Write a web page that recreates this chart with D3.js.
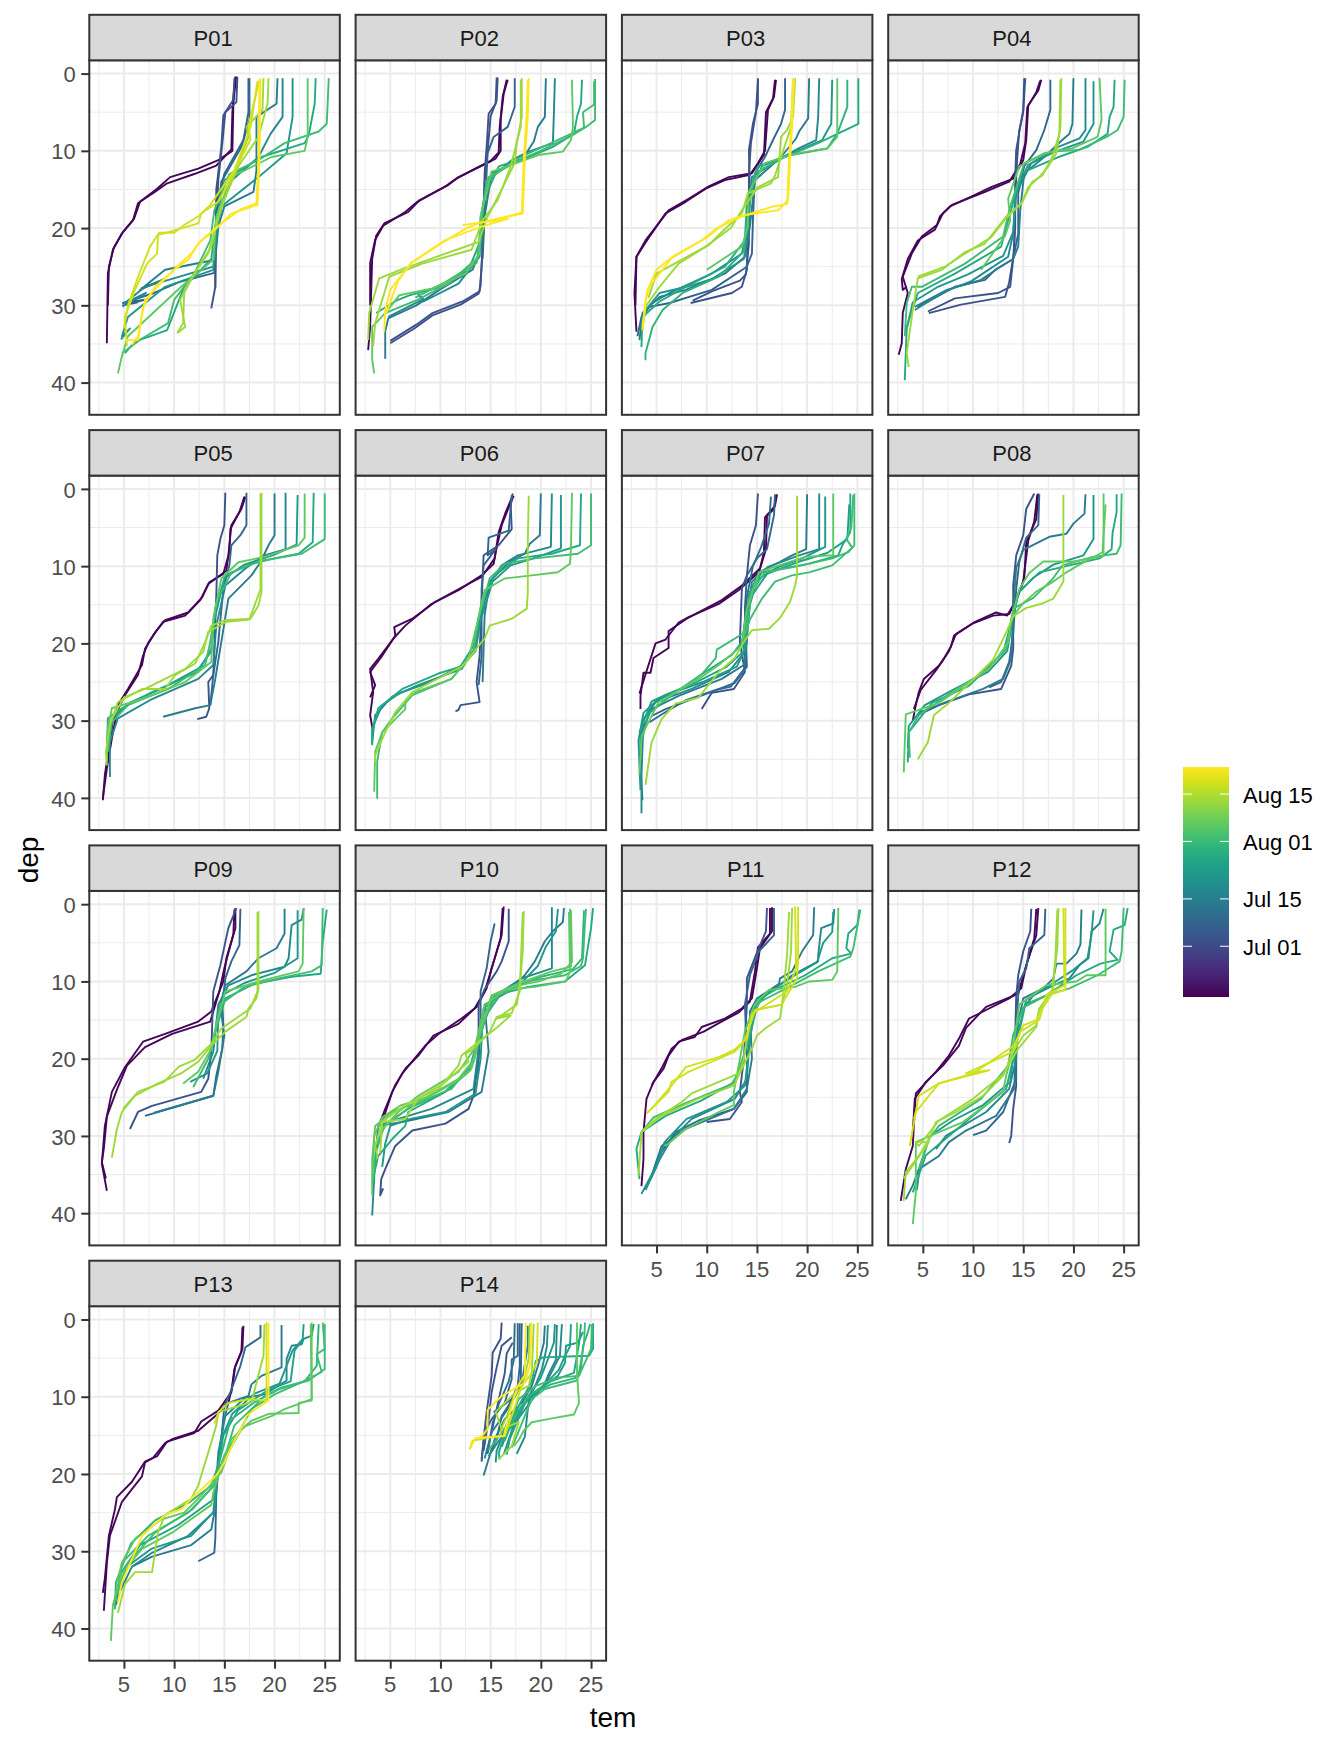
<!DOCTYPE html>
<html>
<head>
<meta charset="utf-8">
<script src="https://cdn.jsdelivr.net/npm/d3@7"></script>
<style>
body { margin: 0; background: #fff; }
text { font-family: "Liberation Sans", Arial, sans-serif; }
</style>
</head>
<body>
<div id="chart"></div>
<script>
// every cast: [date, [tem, dep, tem, dep, ...]]
const p01 = [
  ["06-17", [16.2,.4, 16,2.5, 15.9,3.9, 15.8,10, 14.4,11.2, 12.4,12.3, 9.6,13.4, 8.3,14.9, 6.4,16.8, 5.9,19, 4.8,20.7, 3.9,22.8, 3.4,25.9, 3.3,34.9]],
  ["06-17", [16.1,.4, 15.9,3, 15.8,5, 15.7,9.8, 14.2,11.9, 12,13, 9.3,14.2, 8,15.4, 6.6,16.6, 6,18.8, 4.9,20.5, 4,22.5, 3.5,25, 3.4,30]],
  ["07-03", [16.3,.4, 16.2,3.7, 15.1,5, 14.8,9, 14.4,13.8, 14.2,19.8, 14.1,27.6, 13.7,30.4]],
  ["07-03", [16,.6, 15.9,3.4, 14.9,5.4, 14.7,9.5, 14.2,15, 14.1,24, 14.1,27.8]],
  ["07-08", [17.5,.6, 17.5,6, 16.7,9.5, 14.7,14, 14.2,19.8, 14,25.8, 10.5,27, 8,28.4, 4.9,29.7, 7.4,29.2, 4.9,30, 6.4,29.6]],
  ["07-08", [17.4,.6, 17.4,5, 16.9,8.6, 15,13, 14.3,17, 14.1,23]],
  ["07-14", [20.3,.6, 20.2,3.9, 18.2,5.6, 18.2,12.5, 17.9,15.3, 15,17.2, 14.4,19.8, 14.1,24.1, 9.1,25.4, 6.6,28, 9,26.6, 6.7,27.8]],
  ["07-18", [20.8,.6, 20.8,5.6, 19.6,7.8, 18.4,10.8, 15.4,14.2, 14.2,19.8, 13.9,25, 7.1,27.6, 5.1,29.7, 7.2,28.4, 5,30, 4.9,30.2]],
  ["07-22", [21.8,.6, 21.8,5.6, 21.2,10.3, 18.4,13.4, 14.7,17.2, 14.2,21, 13.9,25.4, 9.1,27.6, 5.4,31.5, 4.8,34, 5.6,33, 4.7,34.4]],
  ["07-27", [24.1,.6, 24,3.9, 23.4,8, 23,9, 18.7,10.8, 15,13.8, 14.1,19.8, 13.7,24, 11,27.6, 9.3,33.2, 6.1,34.7, 5.1,36.2]],
  ["08-02", [25.4,.6, 25.2,6.5, 24.4,7.5, 21,9, 18.4,11.2, 15.5,13, 14,17.7, 13.6,21.6, 12,25.9, 10,29.3, 9.4,32.3, 6.8,34.3, 4.8,36.2]],
  ["08-06", [23.3,.6, 23.3,8.2, 23,10, 19.7,10.8, 15.7,13.4, 14.2,18.5, 13.9,24.1, 10.7,27.6, 5.4,34, 4.8,36.6, 4.4,38.8]],
  ["08-13", [18.9,.6, 18.8,4.7, 17.2,6.9, 17.4,8.2, 16.1,12.5, 14.4,18.5, 13.4,23.3, 12,25.9, 11,28.4, 10.9,32.3, 10.3,33.6]],
  ["08-13", [19.4,.6, 19.3,3.9, 18.4,8.2, 16.4,12, 14.7,17.2, 13.7,22.4, 11.4,27.2, 10.6,29.3, 11.1,32.8, 10.4,33.5]],
  ["08-18", [18.5,.8, 17.4,6.8, 17.6,8.5, 15.5,14, 14.4,16.6, 12.7,18.1, 12.4,19.4, 8.4,20.9, 8.3,23.3, 7.3,24.6, 6.1,28, 5.1,31.5, 5.3,35.3]],
  ["08-18", [18.3,1, 17.6,7, 16,12.5, 13.6,17, 12.5,18.4, 11,19.6, 10,20.6, 8.5,20.6, 7.6,22.4, 6.5,26, 5.4,30, 5,33]],
  ["08-23", [18.6,.6, 18.5,11.2, 18.3,17, 15.7,18.1, 14.4,19.8, 12.4,22, 11.4,24.1, 10.2,25.2, 8.1,27.6, 6.9,30.2, 6.4,34.5, 5.1,34.5]],
  ["08-23", [18.5,.8, 18.4,11.2, 18.2,16.8, 16.7,17.5, 14.7,19.4, 12.7,21.6, 11.7,23.3, 10.4,24.8, 7.1,29.3, 6.4,34, 5.8,35.1]]
];
const p02 = [
  ["06-17", [16.7,.8, 16.3,2.6, 16,6, 16,10, 15.5,11, 14,12, 11.8,13.4, 10.8,14.4, 7.9,16.4, 6.8,17.9, 4.4,19.4, 3.6,21, 3.2,24, 3.1,28.4, 3,32.8, 2.8,35.8]],
  ["06-17", [16.6,.8, 16.2,3, 15.9,7, 15.8,10.2, 15,11.3, 13.6,12.2, 11.6,13.6, 10.5,14.6, 7.7,16.6, 6.4,18, 4.3,19.7, 3.5,21.5, 3,24.5, 3,30]],
  ["07-03", [15.6,.5, 15.5,3.9, 14.8,5.2, 14.6,9.5, 14.4,12.9, 14.3,19.8, 14.1,25, 13.9,28.2, 12.2,29.5, 9.2,31, 7.6,32.5, 5,34.6]],
  ["07-03", [15.7,.5, 15.6,3.5, 15,5.5, 14.7,10, 14.4,14, 14.2,22, 14,27.5, 13.8,28.5, 12,29.9, 9.2,31.3, 7.4,33, 5,34.9]],
  ["07-08", [17.4,.6, 17.4,4.3, 16.7,6.9, 15.3,8.2, 14.7,10.3, 14.5,15.5, 14.2,24]],
  ["07-14", [20.5,.6, 20.4,5.6, 19.7,6.9, 19.3,8.8, 18.1,11.2, 15.1,12.9, 14.5,17.7, 14.1,22.4, 13.2,25.4, 9.9,28, 7.6,30, 4.8,31.7, 4.5,33.4, 4.5,36.9]],
  ["07-18", [21.4,.6, 21.3,5.2, 21.2,9, 18.8,10.1, 17.1,11.2, 14.8,13.8, 14,19.8, 13.9,23.7, 11.8,27.2, 8.3,29.5, 7.8,28.6, 8.3,29.2, 4.8,31.5]],
  ["07-27", [24.1,.8, 24,3.9, 23.6,5.6, 23.3,7.8, 21.2,9.5, 18.8,10.8, 15.8,12, 14.3,16.4, 14,21.6, 12.8,25.4, 9.5,27.8, 6.9,28.7, 5.6,29.4, 3.6,31]],
  ["08-02", [25.4,.7, 25.4,6, 24.5,6.9, 23.1,8, 19.8,10.1, 18.2,11, 14.8,13.4, 14,18.5, 13.8,23.7, 10.8,27.2, 7.7,29.3, 4.5,31]],
  ["08-02", [25.3,1, 25.3,4, 24.2,5, 24.3,7, 23,7.8, 20,9.6, 18,10.8, 14.6,13.8, 14,20, 13.6,24.5, 10.5,27, 7.5,29]],
  ["08-06", [23.1,.8, 23.2,6.9, 23,8.6, 22.2,10.1, 19.9,10.5, 15.1,12.7, 14,18.5, 13.9,23.3, 12.5,25.9, 9.2,27.8, 5.9,28.7, 4.5,31, 3.2,32.8, 3.2,37, 3.4,38.8]],
  ["08-13", [18.1,.6, 18.1,5.6, 17.6,9, 17.4,11.6, 15.9,15.5, 14.7,18.5, 13.8,21.8, 10.5,23.3, 6,25.4, 3.9,26.5, 2.9,31, 2.8,34.5]],
  ["08-13", [18,.8, 18,6.9, 17,12, 15.7,16.4, 14.2,19, 13.1,22.8, 8.2,24.6, 4.9,26.3, 3.5,32.3, 3.3,35.3]],
  ["08-23", [18.8,.6, 18.7,5.6, 18.4,11.2, 18.2,18.1, 14.5,19.2, 12.3,19.6, 16.7,18.8, 14.1,19.8, 10.4,21.6, 7.2,24.4, 6,26.3, 5,28, 4.5,30.6, 4.4,33.4]],
  ["08-23", [18.7,.8, 18.6,5, 18.3,11, 18.1,18, 16,18.7, 14,19.3, 12.6,20, 10.2,21.9, 7,24.6, 5.8,26.8, 4.6,31]]
];
const p03 = [
  ["06-17", [16.9,.8, 16.7,3, 16.1,4.7, 15.8,10, 15.1,11.6, 14.3,13.1, 11.8,13.8, 9.9,14.9, 7.9,16.6, 5.9,18.1, 4.3,21.1, 3,23.7, 2.8,28.4, 3,33.4]],
  ["06-17", [16.8,.8, 16.6,3.2, 15.9,5, 15.7,10.5, 14.5,12.9, 12.2,13.4, 10.2,14.6, 8.2,16.2, 6.2,17.7, 3.9,21.6, 3,23.7, 2.9,30]],
  ["07-03", [15.1,.6, 15.1,3.9, 14.6,6.5, 14.2,9.9, 14.3,15.5, 14.1,19.8, 14,25.4, 13.5,27.6, 12.5,28.4, 8.4,29.7]],
  ["07-03", [15.1,.8, 14.9,5, 14.4,9, 14.2,13, 14.2,22, 13.9,26, 13.3,26.8, 10.5,28.2, 8.6,29.4]],
  ["07-08", [17.8,.6, 17.8,4.7, 17.4,6.5, 16.6,8.6, 15.8,10.8, 14.8,12.9, 14.6,19, 14.5,23.3, 14,25, 10.5,28, 6.3,29.7, 4.3,30.2, 3.5,31.5, 3.1,34]],
  ["07-14", [20.2,.6, 20.1,5.8, 19.2,7.5, 18.9,8.4, 17.4,10.8, 14.8,13.8, 14.3,19.8, 13.8,23.7, 11.8,25.9, 7.9,28, 5.3,28.9, 3.6,31, 3.3,34.5]],
  ["07-18", [21.2,.6, 21.1,5.6, 20.9,8.6, 19.1,9.7, 17.1,11.2, 14.5,13.4, 14.1,19.8, 13.5,23.3, 10.5,25.9, 6.3,28.4, 4.6,29.7]],
  ["07-22", [22.5,.8, 22.4,6.5, 21.5,8.6, 18.5,10.3, 15.5,12, 14.4,15, 14.1,20, 13.7,24, 10.5,26.6, 8,27.6, 5.3,28.4, 4,30.5, 3.5,32.5]],
  ["07-27", [25.1,.6, 25.1,6.5, 23,7.8, 22,9.7, 18.1,10.6, 15.1,12, 14,16.4, 13.8,21.6, 11.8,25, 7.9,27.6, 5.3,29.5, 3.6,31.5, 3.5,35.4]],
  ["07-30", [24,.8, 24,4.3, 23,7.8, 21.1,9, 17.8,10.8, 14.8,12.9, 14,19, 13.7,23, 11.2,26.3, 7.6,28.4, 5.6,30.6, 4.6,32.8, 3.9,36.2, 3.9,37.1]],
  ["08-06", [23,.6, 23,8.2, 22,9.7, 19.1,10.3, 15.8,11.6, 14.1,15.5, 14.1,19.8, 13.5,22.4, 10,25.4]],
  ["08-13", [18.8,.6, 18.6,5.6, 18,7.3, 17.4,8.2, 17.1,13.4, 15.1,14.7, 13.5,17.7, 12.4,20, 9.9,22.4, 7.2,24.6, 5.3,27.6, 3.9,30.2, 3.6,33.2]],
  ["08-13", [18.6,.8, 18.4,6.9, 16.8,13.2, 16.4,14.2, 14.1,15.5, 13.5,18.1, 11.5,20.5, 10.2,22.2, 7.2,24.3, 5,25.9, 4.2,29]],
  ["08-23", [18.7,.6, 18.5,6.9, 18.3,11.2, 18.1,16.4, 17.1,17.7, 13.8,18.3, 12.2,19, 9.9,21.3, 6.6,23.7, 4.3,27.6, 3.9,29.3, 3.6,33.2]],
  ["08-23", [18.6,.6, 18.4,7, 18.2,11, 18,16.9, 16.6,17.2, 13.5,18.5, 11,20, 9.5,21.6, 6.2,24.1, 5,25.4, 4.1,28, 3.6,32.8]]
];
const p04 = [
  ["06-17", [16.8,.8, 16.5,2.2, 15.5,4.1, 15.3,8.6, 15,11.2, 14,13.6, 11.8,14.7, 10.2,15.7, 7.7,17.2, 6.7,18.5, 6.4,19.6, 4.9,21.1, 3.9,23.3, 3,26.3, 3.5,28.4, 3,31, 2.9,34.9, 2.6,36.4]],
  ["06-17", [16.7,.9, 16.3,2.4, 15.4,4.4, 15.2,9, 14.7,11.7, 13.6,14, 11.2,15.3, 7.9,17, 7,18.1, 6.2,20.2, 4.5,21.6, 3.5,24, 2.9,26.6, 3,28, 3.4,27.6]],
  ["07-03", [15.1,.6, 15,4.7, 14.7,6.9, 14.3,9.9, 14.2,13.4, 14.2,19.8, 14,24, 13.7,27.6, 12.5,28.4, 8.2,29.1, 5.5,30.8]],
  ["07-03", [15.2,.6, 15,5, 14.6,7.4, 14.4,11, 14.2,16, 14.1,23, 13.6,27, 13.2,28.9, 8.8,29.9, 5.6,31]],
  ["07-08", [17.7,.8, 17.7,4.7, 17.1,7.3, 16.3,9.9, 15.1,12, 14.5,15.5, 14.5,20.7, 14,24, 12.2,25.4, 11.2,26.7, 8.2,27.6, 4.5,30.2]],
  ["07-14", [20,.6, 19.9,6.5, 19.6,7.8, 18.8,8.7, 17.1,10.8, 15.1,12.9, 14.7,17.7, 14.5,22.4, 14,24, 12.5,25.2, 10.8,26.7, 7.4,28, 4.2,30.2]],
  ["07-18", [21.2,.6, 21.2,7.3, 20.6,8.4, 18.5,9.5, 15.8,11.6, 14.3,15.5, 14,20.7, 13.5,23.7, 9.8,26.9, 7.2,28.2, 4.2,30.6]],
  ["07-22", [22,1, 22,6.5, 21,8.8, 18,10.2, 15.5,11.8, 14.2,15.5, 14,20.5, 13,23.6, 9.5,26, 6.5,27.6, 4,29.6, 3.4,33]],
  ["07-27", [24.1,.8, 24,4.3, 23.6,5.6, 23.4,7.8, 21.4,9.5, 18.5,10.8, 14.8,12.9, 13.5,19, 12.8,22.4, 8.2,25.9, 4.5,28.4, 3.4,32.8, 3.2,39.7]],
  ["08-02", [25.1,.8, 25,5.6, 24.4,7.3, 23.3,8.2, 20.5,9.9, 17.8,10.1, 15.1,11.6, 13.7,17.2, 13,21.1, 9.2,24.6, 4.9,27.6, 3.9,27.6, 3.4,29.7, 3.2,34]],
  ["08-06", [22.6,.6, 22.8,6, 22.4,8.2, 19.8,9.7, 17.1,10.3, 14.6,12, 13.5,16.2, 13.7,19, 13.2,21, 10.8,25.4]],
  ["08-13", [18.8,.6, 18.7,6.9, 18.3,10.3, 17.5,12, 16.6,13.4, 15.5,14.7, 14.8,16.9, 13.3,18.5, 11.2,22, 9.2,23.1, 6.9,25.4, 4.5,26.5, 4,30.6, 3.4,36.2, 3.6,38]],
  ["08-13", [18.7,.8, 18.6,7.8, 17.9,10.8, 16.9,13.2, 15.9,14, 14.9,16.6, 13.1,19, 11.8,21.2, 9.2,23.3, 7.2,25, 4.5,26.3]]
];
const p05 = [
  ["06-17", [17.1,1, 16.7,2.6, 15.7,4.7, 15.4,8.6, 15.2,10.6, 13.4,12.3, 12.6,14.4, 11.1,16.4, 8.9,17.2, 7.9,19, 7.1,20.7, 6.8,22.8, 5.4,25.9, 4.4,28, 3.9,30, 3.6,32.8, 3.1,37, 2.9,40.3]],
  ["06-17", [17,1, 16.5,3, 15.6,5.2, 15.5,8.2, 14.9,11, 13.5,12.1, 12.8,14, 11.4,16, 9.1,17, 8.2,18.4, 7.4,20, 6.9,21.6, 6.4,24.1, 5.1,26.7, 4.3,28.9, 3.8,32.3, 3.3,36.2, 2.9,40]],
  ["07-03", [15.1,.5, 15,4.7, 14.6,6.5, 14.3,8.6, 14.2,13.8, 13.9,24.1, 13.4,25, 13.5,28.4, 13.2,29.5, 12.3,29.8]],
  ["07-08", [17.2,.5, 17.2,4.7, 16.6,6, 15.7,7.3, 15.5,9.9, 14.9,12.9, 14.4,19.8, 13.9,24.1, 13.6,28]],
  ["07-14", [20,.6, 20,6, 19.4,7.3, 18.6,9.5, 17.7,11.2, 15.4,14.2, 14.7,19.8, 14.1,24.6, 13.6,28, 12.1,28.4, 8.9,29.5]],
  ["07-18", [21.1,.5, 21.1,7.8, 19,8.6, 17.1,10.3, 15.1,12.5, 14.2,17.7, 13.9,22.8, 12.4,24.6, 7.8,27.2, 4.4,29.7, 3.6,32.8, 3.6,37.3]],
  ["07-22", [22.3,.8, 22.2,7.2, 20,8.5, 17,9.8, 15,11.6, 14,17, 13.7,21, 12.5,23.2, 9,25.7, 5.7,27.6, 3.9,29.6, 3.4,33]],
  ["07-27", [23.9,.5, 23.8,6.9, 22.4,8.4, 20,9, 17.7,9.7, 15.1,11.2, 14.1,15.5, 13.7,20.7, 12.4,23.7, 7.8,26.3, 4.8,28.4, 3.4,29.7, 3.3,34]],
  ["08-02", [25,.6, 25,6.5, 22.7,8.4, 18.7,9.3, 15.7,10.8, 14.2,14.7, 13.6,19.8, 13.1,22.8, 9.4,25.9, 5.4,28, 3.8,30.2, 3.4,34]],
  ["08-06", [23,.6, 23,6.3, 22.4,7.3, 19,8.8, 16.4,9.5, 14.7,11.6, 13.9,16.8, 13.7,22.4, 11.1,25, 6.8,27.2, 3.8,28.4, 3.4,31, 3.3,35.3]],
  ["08-13", [18.7,.5, 18.7,13.4, 18.4,15.1, 17.6,16.8, 15.1,17, 13.7,17.7, 13.1,19.8, 12.1,22.6, 10.1,24.1, 9.1,25.9, 6.8,25.9, 4.4,27.6, 3.6,30.6, 3.2,34, 3.3,35.8]],
  ["08-13", [18.6,.6, 18.6,13, 17.5,16.9, 15.2,17.2, 13.4,18.5, 12.9,21.1, 11.1,23.3, 9.1,24.6, 7.1,25.9, 5,27, 3.7,30]]
];
const p06 = [
  ["06-17", [17.3,.9, 16.8,2.4, 16.1,4.7, 15.5,8.2, 15.3,9.7, 14.1,11.2, 11.8,13.1, 9.1,14.9, 6.5,17.7, 5.3,19.4, 3.8,22, 3,23.3, 3.3,26.3, 3,29.3, 3.3,31.5]],
  ["06-17", [17.2,.9, 16.5,3, 15.8,5.6, 15.4,9, 14.1,11.4, 12.2,12.7, 9.4,14.7, 7.2,16.8, 5.4,17.9, 5.5,19, 4.1,21.8, 3,23.7, 3.5,25.4, 3,27]],
  ["07-03", [17.2,.6, 17,2.2, 17.1,5.2, 15.8,7.3, 14.3,8.6, 14.1,14.7, 13.9,21.6, 13.6,25, 13.9,27.6, 12,28, 11.8,28.6, 11.5,28.8]],
  ["07-08", [17.1,.8, 16.8,5.4, 14.8,6.3, 14.7,8.6, 15.5,7.8, 14.3,9.9, 14.1,13, 14.1,21.6, 13.8,25.4]],
  ["07-14", [20,.6, 19.9,6, 18.9,7.1, 18.4,8.4, 16.8,9.5, 14.9,12, 14.4,16.4, 14.2,25]],
  ["07-18", [21.1,.6, 21,7.5, 17.7,8.6, 16.1,9.9, 14.8,12.5, 13.8,17.7, 13.4,20.7, 12.1,23.3, 7.8,25.4, 5.2,26.9, 3.5,29.3, 3.2,32.8]],
  ["07-22", [22,.8, 22,7.7, 19.5,8.9, 17,9.9, 15.2,12, 14,17, 13.5,21, 12.2,22.8, 9,25, 6,26.4, 4.2,28, 3.2,31, 3.2,33]],
  ["07-27", [24,.6, 23.9,7.3, 21.1,8.4, 17.7,9, 15.4,11.2, 14.1,14.7, 13.3,20.3, 12,23, 9.8,23.9, 6.2,25.9, 3.8,28.4, 3.2,31.5, 3.2,33.2]],
  ["08-02", [25,.6, 25,7.3, 23.7,8.4, 19.4,9, 16.4,9.7, 14.9,11.6, 13.8,16.8, 13.3,21.1, 11.1,24.6, 7.2,26.7, 5.2,29.7, 4.2,31.5, 3.7,35.3, 3.7,40.1]],
  ["08-06", [23.1,.5, 23,7.8, 22.9,9.7, 21.7,10.8, 19.1,11.2, 16.4,11.6, 14.4,13.1, 13.6,17.7, 12.8,22, 11.1,24.6, 7.5,26.3, 6.5,27.6, 6.5,28.5, 4.2,31.5, 3.5,34, 3.4,39.2]],
  ["08-13", [18.8,.9, 18.7,6.9, 18.7,13.4, 18.6,15.5, 17.1,16.8, 14.9,17.7, 14.4,19.4, 14,20, 12.8,22, 12.1,23, 9.1,25, 7.2,26.3, 5.5,28.9, 4.5,31.5, 3.5,34.5, 3.5,35.4]]
];
const p07 = [
  ["06-17", [17,.7, 16.8,2.2, 15.8,3.7, 15.7,8.2, 15.3,10.3, 13.5,12.5, 11.5,14.4, 8,16.8, 6.2,18.4, 6.2,20.6, 4.7,21.9, 4.4,23.8, 3.7,23.8, 3.4,26.8, 3.4,28.5]],
  ["06-17", [16.9,.8, 16.7,2.6, 16,3.5, 15.9,7.8, 15.2,10.8, 13.2,13.1, 11.2,14.9, 8.2,16.6, 7.2,17.3, 5.9,19.5, 4.9,20, 4.4,22, 4,23.6, 3.3,26.5]],
  ["07-03", [15.1,.6, 14.9,4.7, 14.3,7.3, 14,11.2, 13.5,12.9, 13.3,19.8, 13.8,23.7, 12.7,25.9, 10.5,26.4, 9.5,28.5]],
  ["07-08", [16.8,.7, 16.7,3.4, 16,7.8, 15,9, 14,11.2, 13.8,15.5, 14,23, 12.8,25.1, 10.2,26.4, 5.9,28.5, 4.5,29.4]],
  ["07-10", [16.4,1, 16.2,4.5, 15.4,7.6, 14.6,10, 14,14, 13.6,20, 13.9,23, 12.4,25.6, 11,26, 8,27.3, 5.5,29.2, 4.3,30.2]],
  ["07-14", [20,.7, 19.9,7.8, 18.5,8.6, 17.2,9.5, 15.2,10.8, 14.2,13.8, 14,19.8, 13.7,22.8, 11.5,24.6, 7.2,26.8, 4.5,28.5, 3.4,31.8, 3.4,35.8, 3.6,40.3]],
  ["07-18", [21.2,.6, 21.2,7.8, 19.2,8.6, 16.1,10.1, 14.5,12, 14,16.9, 13.7,21.2, 12.2,23.7, 8.5,25.9, 4.9,27.6, 3.7,29.8, 3.5,37.2, 3.5,42]],
  ["07-22", [21.8,1, 21.8,7.5, 19.5,9, 17,10.2, 15,11.8, 14.3,15, 13.9,20.5, 13,23, 9.6,25, 7,26.2, 5.1,27.3, 3.7,29, 3.2,32.6, 3.4,39]],
  ["07-25", [24.2,2, 24,6.5, 22,8.3, 19,9.5, 16,11, 14.4,14, 13.7,21, 12,23, 9,25, 6,26.6, 4.5,27.5, 3.3,31.5]],
  ["07-27", [24.3,.6, 24.3,5.6, 23.5,7.3, 23.1,8.6, 20.1,9.7, 15.5,10.8, 14.3,13.3, 13.5,19.8, 12.5,21.5, 9.5,24, 6.2,27, 4.2,29.1, 3.5,32.8]],
  ["08-02", [24.7,.6, 24.7,7.3, 24.1,8.2, 22.5,9, 19.5,9.9, 15.8,10.8, 14.5,13.3, 13.9,18.5, 11,20.8, 10.9,21.9, 9.5,24, 5.5,27.6]],
  ["08-02", [24.6,.8, 24.4,5, 23.9,6.5, 24.5,7.6, 22.5,9.9, 20.2,10.8, 18.5,11.2, 16.8,12, 15.5,14.2, 14.3,16.9, 13.7,19.4]],
  ["08-06", [22.6,.6, 22.6,8.6, 19.8,8.8, 17.2,9.9, 15.2,10.8, 14,15.5, 13.5,20.3, 11.2,22.8, 9.2,24.6, 5.2,27.6, 3.5,32, 3.3,37]],
  ["08-13", [19,.9, 19,11.2, 18.8,12.5, 18.3,14.6, 17.3,16.7, 16.2,18.1, 14.5,18.3, 13.7,19.8, 12.8,21.9, 11.2,23.7, 9.2,27, 6.9,27.8, 5.5,29.8, 4.5,32.8, 3.9,38.3]]
];
const p08 = [
  ["06-17", [16.5,.6, 16.3,3.9, 15.3,6.9, 15.1,11.6, 14.5,13.8, 13.6,16.2, 12,16.4, 10,17.4, 8.3,18.8, 7.6,21, 6.6,22.9, 5.1,24.6, 4.6,26.3, 4.3,28, 4,30]],
  ["06-17", [16.4,.7, 16.1,4.2, 15.5,6.7, 15,12, 14.3,14.4, 13.4,16.4, 12.3,16, 10.2,17.2, 8.1,19, 7.8,20.4, 7.1,22, 6.3,23.5, 4.8,26, 4.1,28.5]],
  ["07-03", [16.1,.6, 15.3,2.6, 15,6, 14.3,8.6, 14,12.5, 14,16.7, 14,20.7, 13.8,22.9, 12.8,25.9, 9.6,26.6, 6.6,28, 4.5,29.3]],
  ["07-08", [16.6,.7, 16.5,4.7, 15.3,6.3, 14.6,9.5, 14.3,13, 14,18.6, 13.6,22.4, 12.8,25, 11.6,25.7]],
  ["07-14", [21.2,.7, 21.1,3.2, 20,4.5, 19.3,5.8, 17.6,6.2, 15,7.9, 14.3,10.2, 14,15.5, 13.8,22, 13,24.6, 11,25.9, 7.5,27.5, 4.6,29]],
  ["07-22", [22,.8, 22,6.5, 21,8.6, 18,9.8, 16,11.5, 14.5,13.5, 13.8,18, 13.4,21, 11.5,23.7, 8,26, 5.2,28, 3.6,30.7, 3.5,33.5]],
  ["07-27", [24.3,.7, 24.3,3, 23.9,5.7, 23.8,7.8, 22.6,9, 19.6,9.9, 16.6,10.8, 14.6,13.3, 13.8,17.3, 13,21.2, 9.6,25.5, 5.9,27.7, 3.6,31.5, 3.5,35.4]],
  ["08-02", [24.8,.6, 24.7,7.3, 24.3,8.4, 21.9,8.8, 18.9,9.9, 17.9,11.7, 16,14.1, 14,15.5, 13.3,20.8, 10.6,24.1, 8,26.2, 4.6,29.3, 3.6,31.5, 3.7,34.8]],
  ["08-06", [23,.6, 23,8.7, 20,9.4, 17,9.4, 15.6,10.9, 14.6,13, 13.8,16.9, 13.5,19.9, 11.6,23.3, 9.3,25.3, 6.6,27.7, 3.3,29.2, 3.1,36.7]],
  ["08-06", [23.2,2, 22.9,8.2, 20.6,9.8, 19.3,10.8, 18,12, 16.3,13.3, 15,14.8, 14,16.4]],
  ["08-13", [19,.8, 19,12, 18,14.2, 17,14.8, 15.3,15.4, 14,16.5, 13.3,18.6, 12,22.1, 10,24.7, 7.6,27.7, 6.1,29.3, 5.5,32.8, 4.5,35]]
];
const p09 = [
  ["06-17", [16.1,.5, 16.1,3.1, 15.2,7, 14.9,10, 13.7,13.9, 12.4,15.2, 9.1,16.8, 6.9,17.8, 5.1,21.1, 3.8,24.3, 3.1,28.7, 2.8,33.6, 3.3,37.1]],
  ["06-17", [16,.7, 15.9,3.9, 15,8.3, 14.5,11.3, 13.6,15.2, 9.8,16.8, 7.1,18.5, 5.3,20.9, 4.3,24, 3.3,27.5, 3,31.6, 2.8,33.4, 3.2,35.5]],
  ["07-03", [16.2,.5, 15.4,3.1, 14.6,7.9, 13.9,11.3, 13.7,19.1, 13.4,22.6, 12.7,24.3, 7.8,26.1, 6.4,26.9, 5.6,29.1]],
  ["07-08", [16.6,.6, 16.5,5.3, 15.7,7.4, 15.1,9.6, 14.8,13, 14.9,15.7, 14.8,18.7, 14.2,22.2, 13.9,24.8, 7.1,27.4]],
  ["07-14", [21,.6, 21,3.8, 20.2,5.7, 18.4,7, 17.2,8.7, 15.1,10.5, 14.6,13.1, 15,17, 14.4,21.7, 13.9,24.8, 8,27]],
  ["07-18", [22.9,.5, 22.7,2, 21.7,2.7, 21.4,7, 21,8.1, 17.7,9.2, 15.4,10.5, 14.4,13, 13.9,19.1, 12.9,22.6]],
  ["07-22", [22.3,.8, 22.3,7, 20,8.9, 17,10.2, 15,11.6, 14.4,14, 14.3,19, 13.3,21.9, 11.6,23]],
  ["07-27", [25.2,.7, 24.8,4.8, 24.6,9, 21.7,9.4, 18,10.3, 15.1,12.2, 13.9,17.4, 13.5,20]],
  ["08-02", [24.8,.5, 24.7,7.9, 23.7,8.7, 20.4,9.6, 17,10.7, 14.6,13, 13.9,17.4, 13.4,20, 11.9,23.7]],
  ["08-06", [22.9,.5, 22.8,7.7, 22.4,8.7, 18.4,10, 15.1,11.3, 14.2,15.7, 13.7,18.7, 12.4,21.7, 10.9,23.2]],
  ["08-13", [18.4,.9, 18.4,10.9, 18.2,12.2, 17.4,13.5, 17.2,14.6, 15.1,16.5, 13.7,18.3, 12.4,20.4, 10.7,21.9, 8.4,23.2, 6.1,24.8, 4.8,26.9, 4.3,29.1, 3.8,32.8]],
  ["08-13", [18.3,1, 18.3,11.3, 17.6,13.5, 14.7,16.1, 13.7,18.1, 12,20.2, 10.5,21, 9,23, 6.4,24.3, 4.9,26.5]]
];
const p10 = [
  ["06-17", [16.3,.3, 16.1,4, 15.1,8.3, 14.6,10.9, 13.6,13.3, 12.1,14.8, 9.8,16.8, 8.5,18.3, 6.2,21.9, 5.2,24.3, 4.2,28.2]],
  ["06-17", [16.2,.5, 16,4.4, 14.9,9.2, 14.4,11.3, 13.4,13.5, 11.8,15.5, 9.3,17, 7.8,19.6, 6.5,21.3, 5.5,23.4, 4.5,26.5, 4,28.2]],
  ["07-03", [16.8,.6, 16.8,4.8, 16.1,7.4, 15.6,8.7, 14.4,11, 13.8,13, 13.8,20, 13.3,24.8, 12.8,26.5, 10.5,28.4, 7.2,29.3, 5.5,31.3, 4.5,34.3, 4.1,35.6, 4,37.7, 4.3,36.8]],
  ["07-08", [15.4,2.5, 15,4.8, 14.6,8.3, 14,11.3, 14,15.7, 13.7,22]],
  ["07-14", [22.3,.5, 22.2,2.3, 21.2,3.5, 20.4,4.8, 19.4,7.4, 18.4,9.2, 16.8,11.3, 14.4,13, 14.8,19.1, 14.1,24.3, 10.8,26.9, 6.2,28.2, 3.9,28.7]],
  ["07-18", [21.1,.4, 21.1,8.3, 18.1,9.6, 16.1,11.3, 14.3,13.5, 13.8,18.7, 13.3,23.9, 9.1,26.5, 5.8,27.8, 3.8,28.7, 3.5,33, 3.2,40.3]],
  ["07-22", [21.7,.6, 21.5,3.5, 20.5,5.5, 19.7,8, 18.2,10, 15.8,12, 14.2,15, 14,20, 13.5,24.5, 10.5,26.9, 7,27.8, 5,28.7, 4.5,31, 4.2,34]],
  ["07-27", [25.2,.5, 25,3.1, 24.4,7.9, 22.4,10, 18.7,10.7, 15.4,11.8, 13.8,17.2, 12.8,21.7, 10.5,24.3, 6.8,26.9, 6.5,28.7, 5.2,30.4, 3.8,32.6, 3.2,36]],
  ["07-30", [24.3,.8, 24.1,7, 23.2,8.4, 20,9.4, 16.8,11.1, 15,12.4, 14,17, 13.1,21.2, 10.4,24.3, 6.9,26.4, 4.4,28.6, 3.6,32, 3.3,36]],
  ["08-02", [24.5,.6, 24.4,2.4, 24.2,7, 24,8, 22.4,9.2, 18.7,10, 15.8,11.8, 14.2,15, 13.3,20.4, 11.1,23.9, 7.2,26, 4.5,28.7, 3.5,31.3]],
  ["08-06", [22.9,.6, 23,8.1, 21.1,8.7, 17.7,10.3, 15.1,11.8, 14.1,15.7, 13.4,20, 11.8,22.6, 7.8,25.6, 5.2,26.9, 3.5,28.7, 3.2,33, 3.2,37.7]],
  ["08-06", [22.8,1, 22.9,8.7, 22.5,10, 19.4,10.7, 16.4,11.1, 14.4,13.1, 13.4,18.7, 11.8,21.7, 7.8,24.8, 5.8,26.9, 3.8,29.7]],
  ["08-06", [23,.8, 23.1,7.5, 22,9, 19.8,10, 17.4,10.6, 15.2,11.8, 14,16.4, 13,21.5, 11.5,23, 8.7,25, 6.1,26, 4.2,27.6, 3.4,30, 3.3,35]],
  ["08-13", [18.3,.9, 18.2,6.1, 17.9,10.5, 17.6,13, 15.6,14.8, 17,14.4, 15.6,16, 13.8,17.8, 12.1,19.6, 11.8,20.9, 9.8,23.9, 6.5,26, 4.2,28.2, 3.5,31.3, 3.8,33]],
  ["08-13", [18.2,1, 17.9,11.3, 17.1,14.1, 15.6,14.6, 14.9,16.6, 13.3,18.7, 12.5,19.4, 12.8,20.4, 10.3,23.2, 7.8,25.1, 6.5,27.8, 4.2,28.2, 4,32.2]]
];
const p11 = [
  ["06-17", [16.5,.4, 16.5,3.5, 15.3,5.7, 15,8.3, 14.5,12.2, 13.5,13.5, 11.8,14.8, 9.5,15.9, 8.8,17.2, 7.2,17.8, 6.2,19.6, 5.7,21.3, 4.7,23, 4,25.2, 3.7,29.5, 3.7,33, 3.5,36.5]],
  ["06-17", [16.3,.5, 16.3,3.8, 15.1,5.6, 14.8,8.7, 14.3,12.6, 13.2,14, 11.2,15.4, 9.7,16.5, 7.5,17.6, 6.5,18.7, 5.6,21, 4.5,23.5]],
  ["07-03", [16,.5, 15.9,3.5, 14.9,6.6, 14,9.6, 14,13, 13.7,20, 13.3,24.3, 13.5,25.6, 12.3,27.8, 10,28.2]],
  ["07-08", [16.7,.5, 16.7,4, 15.2,6.1, 14.3,9.2, 13.8,13, 14,19.1, 14,24.3, 12.7,26.5, 9.2,28, 6.9,29.5, 5.2,32.6, 4.4,35.6]],
  ["07-14", [20.7,.4, 20.6,4, 19.5,6.1, 18.5,8.7, 17.3,9.6, 17.2,10.3, 15,12.2, 14.3,13.9, 14.5,20, 14,23.9, 12.7,26.5, 7.9,29.1, 5.5,31.3, 4.5,35.2]],
  ["07-18", [22.7,.6, 22.6,2.5, 21.4,3.1, 21.1,6.6, 21.1,7.4, 18.5,9.2, 16.8,10.9, 14.8,12.9, 14.2,18.7, 14,22.6, 12.8,25.2, 8.5,27.8, 6.5,30.4, 5.5,32.6, 3.5,37.5]],
  ["07-22", [22.6,1, 22.5,3.6, 21.6,5, 21,7.5, 18.8,9.2, 16,11.5, 14.5,14, 14.1,20, 13.8,23.5, 12,25.6, 8,27.8, 5.8,30.8, 5,34, 3.9,37]],
  ["07-27", [25.2,.7, 25,2.7, 24.1,3.8, 23.9,5.7, 24.4,6.4, 22.5,7, 19.8,9.2, 17.1,10.9, 15.2,12.2, 14.2,17.6, 12.8,23, 9.5,25.4, 5.9,27.4, 3.5,29.5, 3,31.7, 3.3,35.6]],
  ["08-02", [25.3,.7, 24.6,5.7, 24.3,6.8, 21.1,8.7, 18.5,10.5, 15.2,12.7, 14.3,15.7, 13.5,20.9, 12.5,23.3, 8,25.7, 4.7,27.6, 3.5,29.5]],
  ["08-06", [23.1,.5, 23,8.7, 22.5,9.8, 20.2,10, 18.8,10.7, 16.2,11.1, 14.8,12.9, 13.8,16.5, 12.7,24.3, 12.7,26, 11.2,26.9, 7.9,29.1, 5.9,31.3]],
  ["08-13", [18.5,.5, 18.4,6.1, 18,10.5, 17.5,13, 14.8,13.7, 14.3,15.7, 14,17.4, 13.7,20, 13.2,21.9, 8.5,24.5, 7.5,25.6, 4.9,27.8, 3.5,29.5, 3.2,35.2]],
  ["08-13", [18.2,1, 18,6.5, 17.6,12, 17.3,14.8, 15.8,16.1, 15,17, 14.5,18.7, 13.5,21.3, 12.7,23.5, 9.1,25.2, 5.5,27.4, 3.5,29.5]],
  ["08-18", [19.1,.3, 19.1,7, 19,9.6, 17.8,12.2, 17.5,13, 14.8,13.7, 14.3,15.7, 13.7,17.8, 12.8,19.1, 11.2,20, 8.2,21.7, 6.5,23, 6.2,24.3, 4,27.1]],
  ["08-18", [18.8,.3, 18.9,8.3, 18,11.3, 14.5,14.2, 14,17.4, 12.7,18.9, 11.2,19.8, 7.9,21.1, 6.5,23.5, 4.5,26.5]]
];
const p12 = [
  ["06-17", [16.5,.5, 16.3,4, 15.3,7.9, 14.8,10.9, 13.6,12.2, 11.3,13.7, 9.6,14.8, 8.6,17.4, 7.6,19.6, 6.3,21.7, 4.3,24.5, 4.1,28.7, 4,31.3, 3.3,34.3, 2.8,38.4]],
  ["06-17", [16.3,.6, 16.1,4.4, 15.1,8.8, 14.5,11.6, 11.3,13.3, 9.3,16, 8.6,18.3, 7,20.9, 5.3,23, 4.2,25.2, 4,29.5]],
  ["07-03", [15.8,.6, 15.7,3.5, 15,6.1, 14.5,9.2, 14.3,12, 14.2,17, 14.3,23.5, 14,26.5, 13.8,30, 13.6,30.9]],
  ["07-08", [17.2,.6, 17.1,4, 15.6,5.7, 15.3,8.3, 14.6,10, 14.3,15.7, 14.3,22.6, 13,26.9, 11.3,29.3, 10,29.9]],
  ["07-14", [20.8,.7, 20.7,5.2, 20.3,6.4, 19.3,7.7, 18.3,7.7, 18,9.6, 17,10.9, 15,12.2, 14.3,16.5, 14.1,23.9, 12.3,27.4, 9.3,29.3, 7.6,30.8, 6.6,32.6, 4.6,34.3, 4,36.4, 3.3,38.2]],
  ["07-18", [23,.6, 22.6,2.5, 21.8,3.5, 21.5,7, 20.6,7.9, 19.6,9.6, 18,10.5, 16,11.8, 14.5,14.4, 14.3,20, 13.6,23.9, 11.3,26.9, 7.3,30, 6.3,31.7]],
  ["07-22", [22,.8, 21.8,4, 21.4,7, 20,8.5, 18,10.2, 15.3,12.4, 14.2,18, 13.7,23, 11,26, 8,28, 5.7,30, 4.7,34, 4.4,37]],
  ["07-27", [25.4,.5, 25.1,2.7, 24,3.3, 23.6,6.1, 24.4,7.2, 22.7,7.7, 20.3,9.2, 17.3,11.8, 15.2,13, 14,20, 13.3,23.9, 9.6,27.8, 7.6,30, 5.3,32.5, 4,37.3]],
  ["08-02", [25,.5, 24.8,6.1, 24.6,7.4, 22.4,9.2, 19.6,10.9, 17.3,11.8, 15,13.4, 14,16.9, 13.5,20.9, 10.8,25.2, 6.6,28.7, 5.6,30.4, 4.6,34.3]],
  ["08-06", [23.2,.6, 23.2,9.2, 21.3,9.2, 20.3,10, 17.3,10.5, 14.6,13, 14,18.7, 13.3,22.2, 13,24.3, 9,28.2, 6.6,29.5, 4.3,30.8, 4.3,37.3, 4,41.4]],
  ["08-13", [18.5,.5, 18.4,5.7, 18.1,8.7, 18,10.9, 16.6,13.5, 16.3,15.7, 15,17, 14,19.1, 13,22.2, 11,24.8, 8.3,26.9, 6.3,28.2, 5.6,30.4, 4.6,32.6, 3.3,34.7, 3.1,38.4]],
  ["08-13", [18.4,.7, 18.2,7, 17.9,11, 16.5,14.1, 16.3,15.9, 14.5,18.7, 13,22, 10,25.2, 6.6,28, 4.6,31.3, 4.3,30.8, 5.6,30.8, 3.1,35.5]],
  ["08-18", [19.2,.5, 19.2,11.1, 17.9,11.6, 16.9,13.5, 16.3,15, 15,15.7, 14.1,18.3, 10,21.9, 6.6,23.2, 4.3,26.9, 3.7,31.3]],
  ["08-18", [19,.5, 19.1,10.5, 17.3,11.8, 16.6,15, 14.7,16.5, 14,19.1, 9.3,21.9, 11.6,21.5, 6.6,23.2, 4.6,24.8, 4.3,26.9, 4.1,27.8]]
];
const p13 = [
  ["06-17", [16.9,.8, 16.8,3.8, 16.1,6, 15.8,8.6, 15.4,10.8, 14.1,12.5, 12.4,14.4, 9.8,15.5, 9.1,16, 7.9,17.9, 7.1,18.5, 6.8,20.3, 4.8,23.6, 3.6,28, 3.3,31.5, 3,37.7]],
  ["06-17", [16.8,1, 16.7,4.2, 16,6.4, 15.7,9.4, 14.4,11.8, 12.7,13.2, 12,14.7, 9.3,15.8, 8.3,17.7, 7.1,18.4, 5.8,21, 4.3,23, 4.1,24.6, 3.5,28, 3.1,33.5, 2.9,35.4]],
  ["07-08", [18.6,.7, 18.6,2.3, 17.1,3.6, 16.6,6, 15.6,9.4, 15,11.2, 14.7,15.5, 14.2,22.4, 14.1,28.4, 14,30.2, 12.4,31.3]],
  ["07-14", [20.7,.7, 20.7,6.2, 18.7,7.3, 17.7,8.4, 17.4,9.9, 15.4,10.8, 14.9,13.4, 14.4,18.6, 14.1,24.3, 13.7,27.2, 11.7,29.2, 7.8,30.7, 5.8,32]],
  ["07-18", [23.9,.6, 23.7,2.1, 22.9,2.5, 22.7,3.2, 21.7,3.4, 21.2,5.1, 21.2,7.9, 19,9.7, 17.1,10.1, 15.1,12.5, 14.4,17.2, 14.2,21, 13.9,25, 11.4,28, 7.8,30.2, 5.8,32, 4.5,35.5, 4.2,37]],
  ["07-22", [22.9,2.4, 21.8,4, 20.5,8.3, 18,9.6, 15.8,12.2, 14.7,15.5, 14.3,19.5, 14,24.8, 11.7,28, 7.7,29.7, 5.3,32, 4.3,36]],
  ["07-25", [22.9,.6, 22.8,2.6, 22,4, 21.6,8, 19.4,9.1, 16.4,11.7, 14.9,15, 14.3,20, 13.9,23.3, 10.4,26.6, 6.6,29.2, 4.6,33, 4.1,36.7]],
  ["07-30", [24.4,.6, 24.2,6, 23,8, 20.5,9, 18,10.7, 15.6,13, 14.6,18, 13.7,21.5, 11.6,23.6, 8.1,26, 5.7,29, 4.2,34, 4.1,37.5]],
  ["08-02", [24.8,.4, 25,3.8, 24.2,4.5, 24.7,6.8, 22.4,8.3, 20,9.7, 17.7,11.6, 16.7,14, 15,17.6, 13.9,21.5, 11.8,24.6, 8.1,27.6, 5.4,31.5, 4.4,35]],
  ["08-02", [25,.6, 25,6.4, 23.4,7.9, 20.7,8.8, 19,9.9, 17.7,11.6, 16,13.7, 15,18, 14,21.5, 11.4,25, 7.4,28, 4.8,31.5, 4.4,35.4]],
  ["08-06", [23.7,.4, 23.7,10.3, 22.7,10.8, 21,11.6, 19.7,12.5, 17.1,13.8, 15.7,15.5, 14.7,19, 13.9,22.4, 13.7,24, 9.8,27.6, 6.8,29.7, 4.8,32.8, 3.9,37, 3.7,41.6]],
  ["08-06", [23.6,.6, 23.7,10.5, 22.4,10.8, 22.4,12.1, 19.5,12.2, 17.7,13.1, 16.7,14.2, 15.4,17.2, 14.7,19.8, 12.7,22.8, 11,25, 8.7,25.9, 6.1,28.4, 4.8,31.5, 4.3,34]],
  ["08-13", [19,.6, 18.9,4.7, 18.4,7.2, 17.7,10.7, 14.4,12, 14.2,13.7, 13.4,17.2, 12.4,21.5, 11.7,23.2, 9.1,25.3, 8.4,27.5, 7.8,32.7, 6.1,32.7, 5.1,34.3, 4.4,38]],
  ["08-18", [19.2,.4, 19.2,10.5, 17.6,10.3, 15.4,10.8, 14.4,12, 14,13.5]],
  ["08-23", [19.4,.4, 19.4,10.5, 17.7,12, 17.2,12.5, 17,13.4, 16.1,15.4, 15,18.5, 14.2,20.2, 11.7,23.2, 10.8,24.5, 9.1,25.3, 6.8,28, 6.1,30.1, 4.8,34, 4.4,36.6]]
];
const p14 = [
  ["07-03", [16.1,.4, 16,2.5, 15.2,4.3, 15.1,7.3, 14.6,12, 14.3,15.5, 14.1,18.4]],
  ["07-03", [17.1,2.3, 16.1,3.4, 15.6,6.2, 15.1,9.4, 14.8,12.9, 14.3,17]],
  ["07-05", [17.2,3, 16.6,4.4, 16.4,7, 15.8,10.4, 15.2,14, 14.6,17.4]],
  ["07-08", [17.7,.5, 17.7,4.7, 17.1,5.2, 17.1,7.7, 16.4,10.8, 15.1,12.9, 14.4,14.6, 14.1,18.1]],
  ["07-08", [18.1,.5, 18,7.8, 17.6,9.5, 16.1,12.5, 15.6,15.5, 15.1,16.8]],
  ["07-08", [17.9,.5, 17.9,6, 17.7,8.6, 17.1,10.3, 15.3,12]],
  ["07-11", [17.4,.5, 17.3,5.3, 16.8,8, 15.8,11, 15.2,13.4, 14.7,17.4]],
  ["07-14", [20.4,.8, 20.3,3, 19.8,5.6, 19.1,8.6, 18.1,10.8, 16.4,12.9, 15.4,15.5, 14.3,20.2]],
  ["07-14", [18.7,.8, 18.7,3.4, 18.1,8.2, 17.1,10.8, 15.8,13.3, 15.1,14.6, 14.4,18]],
  ["07-18", [21.6,.7, 21.5,5.2, 20.8,7, 20.3,8.6, 18.8,10.5, 18.4,15.2, 17.6,17.4]],
  ["07-18", [22.1,.6, 21.9,4.7, 20.6,8, 19.3,10.1, 17.5,13.3, 15.8,15.7, 14.8,17.7]],
  ["07-20", [20.7,.7, 20.6,3.5, 20.1,6.5, 19.3,9, 18,11.5, 16.6,13.5, 15.6,17, 15.5,18.5]],
  ["07-22", [24.2,1.6, 23.7,3, 22.5,3.4, 22.4,5.6, 21.7,7.3, 19.8,9, 18.1,11.2, 17.1,13, 16.1,16.5]],
  ["07-22", [21.4,.6, 21.3,3, 20.6,5.5, 20,7.5, 19,9.5, 18,11.5, 17.2,14, 16.3,17.5]],
  ["07-25", [23,.6, 22.9,3.5, 22.3,5, 21.8,6.5, 20.3,8.6, 18.5,10.6, 17.7,13, 16.9,15.5, 16.6,17.5]],
  ["07-27", [25.2,.5, 25.2,3.8, 24.8,4.7, 20.2,4.9, 19.5,5.4, 19.1,8, 17.8,11.2, 16.5,14.2, 15.8,17.3, 15.9,18.1]],
  ["07-27", [24,.6, 23.8,3.2, 23.3,6.9, 21,8, 19,9.7, 18,11.8, 17,13.7, 16.2,15.6]],
  ["07-30", [24.9,.6, 24.6,2, 24.2,3.4, 24,6.4, 23.4,7.6, 21,8.4, 19,9.7, 17.4,12.4, 16.4,15.7]],
  ["08-02", [25.1,.6, 25,3.8, 23.8,7.3, 21.8,7.5, 19.5,8.6, 17.8,10.3, 16.8,13.4, 16.1,14.7, 14.8,16.9]],
  ["08-02", [24.4,.4, 24.3,3.1, 23.8,6.9, 23.6,7.9, 20.4,9, 19.1,10.3, 18.4,12.5, 17.4,15.7, 17.1,16.6]],
  ["08-06", [23.6,.4, 23.6,6.9, 23.8,10.8, 23.3,12.3, 21.1,12.8, 19.1,13.3, 18.3,14.4, 17.8,15.6, 17.3,16.4]],
  ["08-13", [19.3,.6, 19.1,6.8, 18.8,8.6, 17.5,9.4, 15.5,12, 16.1,14.2, 17.8,13.3, 17.1,16.4, 15.8,18.1]],
  ["08-13", [18.9,.5, 18.8,5, 18.2,8.5, 17.3,10, 16.6,12.6, 16.1,14, 15.9,15.2]],
  ["08-18", [19.7,.4, 19.6,5.6, 18.9,7.3, 18.1,8.6, 17.1,12.5, 16.4,15.1, 14.8,15.3, 13.2,15.7, 12.9,16.8]],
  ["08-23", [19.1,.4, 18.9,6, 18.4,8.2, 16.1,9.9, 14.7,11.7, 14.7,14.2, 14,15.3]],
  ["08-23", [18.5,.4, 18.4,7.2, 17.7,8.6, 17.1,11.2, 16.3,15.1, 13.5,15.3, 13,16.6]]
];

const panelNames = ["P01","P02","P03","P04","P05","P06","P07","P08","P09","P10","P11","P12","P13","P14"];
const panelCasts = [p01,p02,p03,p04,p05,p06,p07,p08,p09,p10,p11,p12,p13,p14];
const temTicks = [5, 10, 15, 20, 25];
const temMinor = [2.5, 7.5, 12.5, 17.5, 22.5];
const depTicks = [0, 10, 20, 30, 40];
const depMinor = [5, 15, 25, 35];
const legendTicks = ["07-01", "07-15", "08-01", "08-15"];
const legendLabels = ["Jul 01", "Jul 15", "Aug 01", "Aug 15"];
const dateRange = ["06-16", "08-23"];

var parseDay = d3.timeParse("%m-%d");
var colour = d3.scaleSequential(d3.interpolateViridis).domain(dateRange.map(parseDay));

var panelW = 250.5, panelH = 354.5, stripH = 45.5;
var colX = i => 89.3 + 266.3 * i;
var rowY = i => 60.3 + 415.3 * i;

var x = d3.scaleLinear().domain([1.55, 26.5]).range([0, panelW]);
var y = d3.scaleLinear().domain([-1.72, 44.17]).range([0, panelH]);

var svg = d3.select("#chart").append("svg")
    .attr("width", 1344)
    .attr("height", 1747);

var line = d3.line().x(d => x(d[0])).y(d => y(d[1]));

panelNames.forEach((name, i) => {
    var col = i % 4;
    var row = Math.floor(i / 4);
    var g = svg.append("g").attr("transform", `translate(${colX(col)},${rowY(row)})`);

    // grid
    temMinor.forEach(v => g.append("line").attr("x1", x(v)).attr("x2", x(v)).attr("y1", 0).attr("y2", panelH)
        .attr("stroke", "#EBEBEB").attr("stroke-width", 1));
    depMinor.forEach(v => g.append("line").attr("x1", 0).attr("x2", panelW).attr("y1", y(v)).attr("y2", y(v))
        .attr("stroke", "#EBEBEB").attr("stroke-width", 1));
    temTicks.forEach(v => g.append("line").attr("x1", x(v)).attr("x2", x(v)).attr("y1", 0).attr("y2", panelH)
        .attr("stroke", "#EBEBEB").attr("stroke-width", 2));
    depTicks.forEach(v => g.append("line").attr("x1", 0).attr("x2", panelW).attr("y1", y(v)).attr("y2", y(v))
        .attr("stroke", "#EBEBEB").attr("stroke-width", 2));

    // casts, oldest first so the late ones end up on top
    var casts = panelCasts[i].slice().sort((a, b) => d3.ascending(a[0], b[0]));
    casts.forEach(cast => {
        var pts = [];
        for (var k = 0; k < cast[1].length; k += 2) pts.push([cast[1][k], cast[1][k + 1]]);
        g.append("path")
            .attr("d", line(pts))
            .attr("fill", "none")
            .attr("stroke", colour(parseDay(cast[0])))
            .attr("stroke-width", 1.9)
            .attr("stroke-linejoin", "round");
    });

    // panel border and strip
    g.append("rect").attr("width", panelW).attr("height", panelH)
        .attr("fill", "none").attr("stroke", "#333333").attr("stroke-width", 2);
    g.append("rect").attr("y", -stripH).attr("width", panelW).attr("height", stripH)
        .attr("fill", "#D9D9D9").attr("stroke", "#333333").attr("stroke-width", 2);
    g.append("text").attr("x", panelW / 2 - 1.5).attr("y", -stripH / 2 + 8.5)
        .attr("text-anchor", "middle").attr("font-size", 22).attr("fill", "#1A1A1A").text(name);

    if (col == 0) {
        var yAxis = d3.axisLeft(y).tickValues(depTicks).tickSize(8).tickPadding(5.5);
        var ya = g.append("g").call(yAxis);
        styleAxis(ya);
        ya.selectAll(".tick text").attr("dy", "0.37em");
    }
    if (i >= 10) {
        var xAxis = d3.axisBottom(x).tickValues(temTicks).tickSize(8).tickPadding(7.5);
        var xa = g.append("g").attr("transform", `translate(0,${panelH})`).call(xAxis);
        styleAxis(xa);
        xa.selectAll(".tick text").attr("dx", "-0.5");
    }
});

function styleAxis(sel) {
    sel.select(".domain").remove();
    sel.selectAll(".tick line").attr("stroke", "#333333").attr("stroke-width", 2);
    sel.selectAll(".tick text").attr("font-size", 22).attr("fill", "#4D4D4D")
        .attr("font-family", '"Liberation Sans", Arial, sans-serif');
}

svg.append("text").attr("x", 613).attr("y", 1727).attr("text-anchor", "middle")
    .attr("font-size", 28).attr("fill", "#000").text("tem");
svg.append("text").attr("transform", "translate(38,860) rotate(-90)").attr("text-anchor", "middle")
    .attr("font-size", 28).attr("fill", "#000").text("dep");

// colour bar
var barX = 1183, barW = 46, barTop = 767, barBottom = 997;
var barScale = d3.scaleTime().domain(dateRange.map(parseDay)).range([barBottom, barTop]);
var defs = svg.append("defs");
var grad = defs.append("linearGradient").attr("id", "viridisBar")
    .attr("x1", 0).attr("x2", 0).attr("y1", 1).attr("y2", 0);
d3.range(0, 1.001, 0.05).forEach(t => grad.append("stop")
    .attr("offset", t).attr("stop-color", d3.interpolateViridis(t)));
svg.append("rect").attr("x", barX).attr("y", barTop).attr("width", barW).attr("height", barBottom - barTop)
    .attr("fill", "url(#viridisBar)");
legendTicks.forEach((t, i) => {
    var py = barScale(parseDay(t));
    svg.append("line").attr("x1", barX).attr("x2", barX + 9).attr("y1", py).attr("y2", py)
        .attr("stroke", "#fff").attr("stroke-width", 1);
    svg.append("line").attr("x1", barX + barW - 9).attr("x2", barX + barW).attr("y1", py).attr("y2", py)
        .attr("stroke", "#fff").attr("stroke-width", 1);
    svg.append("text").attr("x", 1243).attr("y", py + 8.5)
        .attr("font-size", 22).attr("fill", "#000").text(legendLabels[i]);
});
</script>
</body>
</html>
